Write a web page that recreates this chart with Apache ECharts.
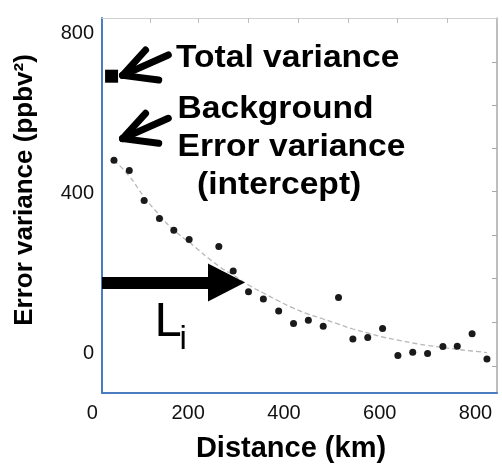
<!DOCTYPE html>
<html>
<head>
<meta charset="utf-8">
<script src="https://cdn.jsdelivr.net/npm/echarts@6/dist/echarts.min.js"></script>
<style>
html,body{margin:0;padding:0;background:#fff;}
#chart{width:502px;height:465px;}
</style>
</head>
<body>
<div id="chart"></div>
<script>
// ---- data ----
const distanceKm    = [45, 77, 108, 140, 170, 202, 264, 294, 326, 357, 389, 420, 451, 482, 514, 544, 575, 606, 638, 669, 700, 732, 762, 793, 824];
const errorVariance = [482, 456, 381, 336, 307, 284, 266, 205, 153, 135, 105, 74, 82, 67, 139, 35, 39, 61, -6, 2, -1, 16, 17, 48, -15];
const fitCurve      = [482, 442, 390, 345, 307, 277, 217, 195, 170, 150, 130, 112, 97, 85, 72, 60, 50, 40, 32, 25, 19, 14, 9, 5, 1];
const totalVariance = [[40, 692]];
const xTickLabels   = [0, 200, 400, 600, 800];
const yTickLabels   = [0, 400, 800];
const topTicks      = [120, 220, 325, 429, 534, 636, 741];
const rightTicks    = [-32.5, 77.5, 187.5, 295, 405, 512.5, 620, 727.5];
// annotation arrows (data coordinates)
const arrowTotal      = {tip: [63, 694], tail: [158.5, 745], armA: [111, 757.5], armB: [138.5, 682.5]};
const arrowBackground = {tip: [63, 536], tail: [158.5, 586.8], armA: [111, 599.3], armB: [138.5, 524.3]};
const arrowLi         = {from: [20, 176], to: [280, 176]};

const FONT = "'Liberation Sans', Arial, Helvetica, sans-serif";
const BLUE = '#4a7dc0';

function chevron(a) {
  return [
    [{coord: a.tip}, {coord: a.tail}],
    [{coord: a.tip}, {coord: a.armA}],
    [{coord: a.tip}, {coord: a.armB}]
  ];
}

function note(text, x, y) {
  return {type: 'text', x: x, y: y, scaleX: 1.05, z: 10,
          style: {text: text, font: 'bold 32px ' + FONT, fill: '#000', align: 'left', verticalAlign: 'middle'}};
}

const chart = echarts.init(document.getElementById('chart'), null, {renderer: 'canvas'});
chart.setOption({
  animation: false,
  grid: [
    {left: 102, right: 5, top: 18, bottom: 72},
    {left: 92.4, right: 26.5, top: 18, bottom: 72}
  ],
  xAxis: [
    {gridIndex: 0, type: 'value', min: 20, max: 845, position: 'bottom',
     axisLine: {onZero: false, lineStyle: {color: BLUE, width: 2}},
     axisTick: {show: false}, axisLabel: {show: false}, splitLine: {show: false}},
    {gridIndex: 0, type: 'value', min: 20, max: 845, position: 'top',
     axisLine: {onZero: false, lineStyle: {color: '#cfcfcf', width: 1}},
     axisTick: {show: true, inside: true, length: 5, customValues: topTicks, lineStyle: {color: '#bdbdbd'}},
     axisLabel: {show: false}, splitLine: {show: false}},
    {gridIndex: 1, type: 'value', min: 0, max: 800, interval: 200, position: 'bottom',
     axisLine: {show: false}, axisTick: {show: false}, splitLine: {show: false},
     axisLabel: {show: true, fontSize: 20, color: '#111', margin: 10, fontFamily: FONT, customValues: xTickLabels}}
  ],
  yAxis: [
    {gridIndex: 0, type: 'value', min: -100, max: 837.5, position: 'left',
     axisLine: {show: true, onZero: false, lineStyle: {color: BLUE, width: 2}},
     axisTick: {show: false}, splitLine: {show: false},
     axisLabel: {show: true, fontSize: 20, color: '#111', margin: 8, fontFamily: FONT, customValues: yTickLabels}},
    {gridIndex: 0, type: 'value', min: -100, max: 837.5, position: 'right',
     axisLine: {show: true, onZero: false, lineStyle: {color: '#a8a8a8', width: 1.5}},
     axisTick: {show: true, inside: true, length: 5, customValues: rightTicks, lineStyle: {color: '#a8a8a8'}},
     axisLabel: {show: false}, splitLine: {show: false}},
    {gridIndex: 1, type: 'value', min: -100, max: 837.5, show: false}
  ],
  series: [
    {
      type: 'line', xAxisIndex: 0, yAxisIndex: 0, z: 1,
      data: distanceKm.map((d, i) => [d, fitCurve[i]]),
      smooth: true, showSymbol: false, silent: true,
      lineStyle: {color: '#b8b8b8', width: 1.3, type: [5, 3]}
    },
    {
      type: 'scatter', xAxisIndex: 0, yAxisIndex: 0, z: 3,
      data: distanceKm.map((d, i) => [d, errorVariance[i]]),
      symbolSize: 7, itemStyle: {color: '#1a1a1a', opacity: 1}
    },
    {
      type: 'scatter', xAxisIndex: 0, yAxisIndex: 0, z: 4,
      data: totalVariance, symbol: 'rect', symbolSize: 13,
      itemStyle: {color: '#000', opacity: 1},
      markLine: {
        silent: true, symbol: 'none', label: {show: false},
        lineStyle: {color: '#000', width: 7, type: 'solid', cap: 'round', opacity: 1},
        emphasis: {disabled: true},
        data: chevron(arrowTotal).concat(chevron(arrowBackground))
      }
    },
    {
      type: 'line', xAxisIndex: 0, yAxisIndex: 0, z: 5, data: [],
      markLine: {
        silent: true, symbol: ['none', 'triangle'], symbolSize: [38, 37],
        label: {show: false},
        lineStyle: {color: '#000', width: 12, type: 'solid', opacity: 1},
        itemStyle: {color: '#000'},
        emphasis: {disabled: true},
        data: [[{coord: arrowLi.from}, {coord: arrowLi.to}]]
      }
    }
  ],
  graphic: [
    note('Total variance', 176, 58),
    note('Background', 177.5, 109),
    note('Error variance', 177.5, 147),
    note('(intercept)', 197, 185.5),
    {type: 'text', x: 154.5, y: 322.5, z: 10, style: {text: 'L', font: '49px ' + FONT, fill: '#000', align: 'left', verticalAlign: 'middle'}},
    {type: 'text', x: 179.5, y: 340, z: 10, style: {text: 'i', font: '33px ' + FONT, fill: '#000', align: 'left', verticalAlign: 'middle'}},
    {type: 'text', x: 291, y: 449, z: 10, style: {text: 'Distance (km)', font: 'bold 29px ' + FONT, fill: '#000', align: 'center', verticalAlign: 'middle'}},
    {type: 'text', x: 24.5, y: 190, rotation: Math.PI / 2, z: 10, style: {text: 'Error variance (ppbv²)', font: 'bold 26px ' + FONT, fill: '#000', align: 'center', verticalAlign: 'middle'}}
  ]
});
</script>
</body>
</html>
